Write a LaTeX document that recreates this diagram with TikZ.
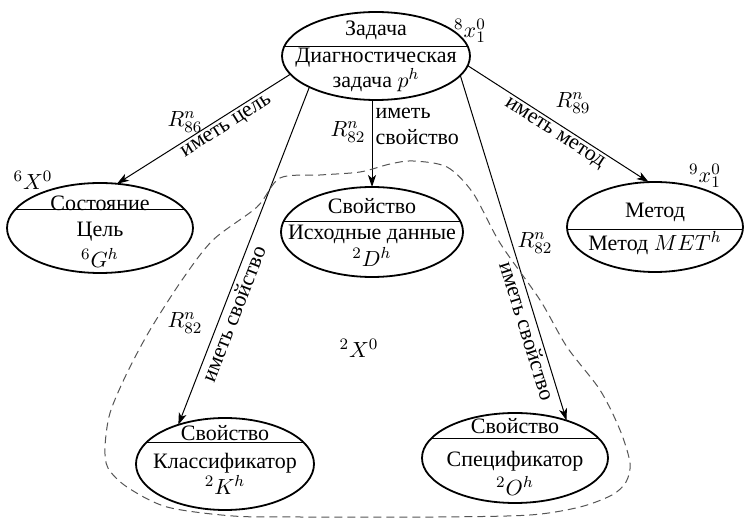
\documentclass[tikz,border=0pt]{standalone}
\usepackage{fontspec}
\setmainfont{Liberation Serif}
\usetikzlibrary{positioning,arrows.meta,shapes.geometric,calc}
\definecolor{blobgray}{RGB}{85,85,85}

\begin{document}
\begin{tikzpicture}[x=0.5pt,y=-0.5pt, every node/.style={font=\fontsize{11}{13}\selectfont},
  frame/.style={draw,line width=0.9pt,ellipse,inner sep=0pt,outer sep=0pt},
  divider/.style={line width=0.5pt},
  rel/.style={line width=0.5pt,-{Stealth[length=6pt,width=4pt,inset=1.6pt]}},
  lbl/.style={inner sep=1.5pt}]
  \useasboundingbox (0,0) rectangle (746,518);

  % ellipses
  \node[frame,minimum width=94pt,minimum height=44pt] (zadacha) at (376,56) {};
  \node[frame,minimum width=93pt,minimum height=45pt] (cel) at (100,228) {};
  \node[frame,minimum width=91pt,minimum height=45pt] (isxod) at (372,232) {};
  \node[frame,minimum width=88pt,minimum height=45pt] (metod) at (655,227) {};
  \node[frame,minimum width=89pt,minimum height=46pt] (klass) at (225,464) {};
  \node[frame,minimum width=93pt,minimum height=45pt] (specif) at (515,458) {};

  % dividers
  \draw[divider] ($(zadacha)+(-92,-9)$) -- ($(zadacha)+(92,-9)$);
  \draw[divider] ($(cel)+(-85,-18)$) -- ($(cel)+(85,-18)$);
  \draw[divider] ($(isxod)+(-88.5,-10)$) -- ($(isxod)+(88.5,-10)$);
  \draw[divider] ($(metod)+(-87.8,3)$) -- ($(metod)+(87.8,3)$);
  \draw[divider] ($(klass)+(-79,-21)$) -- ($(klass)+(79,-21)$);
  \draw[divider] ($(specif)+(-84,-19)$) -- ($(specif)+(84,-19)$);

  % texts
  \node (zadacha-t) at ($(zadacha)+(0,-26)$) {Задача};
  \node (zadacha-n) at ($(zadacha)+(0,2)$) {Диагностическая};
  \node (zadacha-p) at ($(zadacha)+(0,24)$) {задача $p^h$};
  \node (cel-t) at ($(cel)+(0,-25)$) {Состояние};
  \node (cel-n) at ($(cel)+(0,4)$) {Цель};
  \node (cel-g) at ($(cel)+(0,30)$) {$^6G^h$};
  \node (isxod-t) at ($(isxod)+(0,-26)$) {Свойство};
  \node (isxod-n) at ($(isxod)+(0,2)$) {Исходные данные};
  \node (isxod-d) at ($(isxod)+(0,25)$) {$^2D^h$};
  \node (metod-t) at ($(metod)+(0,-15)$) {Метод};
  \node (metod-n) at ($(metod)+(0,16)$) {Метод $MET^h$};
  \node (klass-t) at ($(klass)+(0,-31)$) {Свойство};
  \node (klass-n) at ($(klass)+(0,-1)$) {Классификатор};
  \node (klass-k) at ($(klass)+(0,21)$) {$^2K^h$};
  \node (specif-t) at ($(specif)+(0,-32)$) {Свойство};
  \node (specif-n) at ($(specif)+(0,3)$) {Спецификатор};
  \node (specif-o) at ($(specif)+(0,28)$) {$^2O^h$};

  \node (x8) at (470,31) {$^8x_1^0$};
  \node (x6) at (33,180) {$^6X^0$};
  \node (x9) at (705,176) {$^9x_1^0$};
  \node (x2) at (359,348) {$^2X^0$};

  % relations
  \draw[rel] (zadacha.192) -- node[lbl,sloped,below,pos=.4] (l-cel) {иметь цель} (cel.69);
  \draw[rel] (isxod.north |- zadacha.south) -- node[lbl,right,pos=.3,align=left] (l-isx) {иметь\\свойство} (isxod.north);
  \draw[rel] (zadacha.205) -- node[lbl,sloped,below,pos=.66] (l-kla) {иметь свойство} (klass.140);
  \draw[rel] (zadacha.347) -- node[lbl,sloped,below,pos=.73] (l-spe) {иметь свойство} (specif.36);
  \draw[rel] (zadacha.354) -- node[lbl,sloped,below,pos=.51] (l-met) {иметь метод} (metod.98);

  \node (r86) at (185,122) {$R^n_{86}$};
  \node (r82a) at (348,132) {$R^n_{82}$};
  \node (r82b) at (185,323) {$R^n_{82}$};
  \node (r82c) at (535,243) {$R^n_{82}$};
  \node (r89) at (573,103) {$R^n_{89}$};

  % set 2X0
  \draw[blobgray,line width=0.5pt,dash pattern=on 4pt off 2.5pt] plot[smooth cycle] coordinates {
    (413,161) (447,167) (473,193) (500,243) (540,300) (567,347) (600,390) (620,430)
    (630,463) (626,482) (612,495) (580,507) (530,515) (437,517) (300,517) (233,516)
    (167,507) (127,487) (108,468) (105,447) (110,413) (127,373) (150,330) (182,280)
    (213,240) (257,207) (280,178) (320,175) (360,172) (390,164)};
\end{tikzpicture}
\end{document}
